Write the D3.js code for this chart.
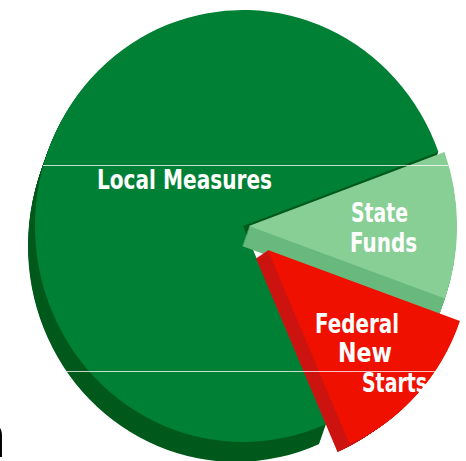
<!DOCTYPE html>
<html>
<head>
<meta charset="utf-8">
<script src="https://cdn.jsdelivr.net/npm/d3@7"></script>
<style>
  html, body { margin: 0; padding: 0; background: #fff; }
  svg { display: block; }
</style>
</head>
<body>
<div id="chart"></div>
<script>
// data (share of funding, %)
const categories = ["Local Measures", "State Funds", "Federal New Starts"];
const values = [76, 11, 13];
const labelLines = [["Local Measures"], ["State", "Funds"], ["Federal", "New", "Starts"]];

const width = 466, height = 461;
const cx = 243, cy = 226, r = 208, sy = 216 / 208;
const steps = 24;
const depth = {
    "Local Measures": { x: -7, y: 20 },
    "State Funds": { x: -7, y: 20 },
    "Federal New Starts": { x: -12, y: 8 }
};
const explode = { "Local Measures": 0, "State Funds": 6, "Federal New Starts": 34 };
const radiusK = { "Local Measures": 1, "State Funds": 1, "Federal New Starts": 0.98 };
const faceColor = { "Local Measures": "#008034", "State Funds": "#88cf96", "Federal New Starts": "#f01000" };
const sideColor = { "Local Measures": "#005a1c", "State Funds": "#69b97d", "Federal New Starts": "#cc1410" };

// label placement: left x, baseline y, width of each line
const labelLayout = {
    "Local Measures": [[97, 189, 175]],
    "State Funds": [[351, 222, 57], [350, 252, 67]],
    "Federal New Starts": [[315, 333, 84], [338, 362, 54], [362, 392, 65]]
};

const svg = d3.select("#chart").append("svg")
    .attr("width", width)
    .attr("height", height);

const rows = categories.map((c, i) => ({ name: c, value: values[i], lines: labelLines[i] }));

const startA = 156.4 * Math.PI / 180;
const pie = d3.pie()
    .sort(null)
    .value(d => d.value)
    .startAngle(startA)
    .endAngle(startA + 2 * Math.PI);

const arc = d3.arc()
    .innerRadius(0)
    .outerRadius(d => r * radiusK[d.data.name]);
const arcs = pie(rows);

function offset(d) {
    const mid = (d.startAngle + d.endAngle) / 2;
    const e = explode[d.data.name];
    return [cx + e * Math.sin(mid), cy - e * Math.cos(mid) * sy];
}

const defs = svg.append("defs");
const clip = defs.append("clipPath").attr("id", "pie-clip");

const slices = svg.append("g");

arcs.forEach(d => {
    const [ox, oy] = offset(d);
    const dep = depth[d.data.name];
    const g = slices.append("g").attr("class", "slice");

    // side walls: stack of shifted copies
    d3.range(steps, 0, -1).forEach(k => {
        g.append("path")
            .attr("d", arc(d))
            .attr("transform", `translate(${ox + dep.x * k / steps},${oy + dep.y * k / steps}) scale(1,${sy})`)
            .attr("fill", sideColor[d.data.name]);
    });

    g.append("path")
        .attr("d", arc(d))
        .attr("transform", `translate(${ox},${oy}) scale(1,${sy})`)
        .attr("fill", faceColor[d.data.name]);

    [0, steps].forEach(k => {
        clip.append("path")
            .attr("d", arc(d))
            .attr("transform", `translate(${ox + dep.x * k / steps},${oy + dep.y * k / steps}) scale(1,${sy})`);
    });
});

// faint light scan lines crossing the picture
const scanLines = [165, 371];
svg.append("g")
    .attr("clip-path", "url(#pie-clip)")
    .selectAll("line")
    .data(scanLines)
    .join("line")
    .attr("x1", 0).attr("x2", width)
    .attr("y1", d => d + 0.5).attr("y2", d => d + 0.5)
    .attr("stroke", "#fff")
    .attr("stroke-opacity", 0.75)
    .attr("stroke-width", 1);

// labels
const labels = svg.append("g")
    .attr("font-family", "'Liberation Sans Narrow', 'DejaVu Sans Condensed', 'Roboto', sans-serif")
    .attr("font-weight", "bold")
    .attr("font-size", "27px")
    .attr("fill", "#fff");

rows.forEach(row => {
    row.lines.forEach((t, j) => {
        const [x, y, w] = labelLayout[row.name][j];
        labels.append("text")
            .attr("x", x)
            .attr("y", y)
            .attr("textLength", w)
            .attr("lengthAdjust", "spacingAndGlyphs")
            .text(t);
    });
});

// cut-off title letter at the lower left
svg.append("text")
    .attr("x", 7)
    .attr("y", 457)
    .attr("text-anchor", "end")
    .attr("font-family", "'Open Sans', sans-serif")
    .attr("font-size", "62px")
    .attr("fill", "#000")
    .text("n");
</script>
</body>
</html>
